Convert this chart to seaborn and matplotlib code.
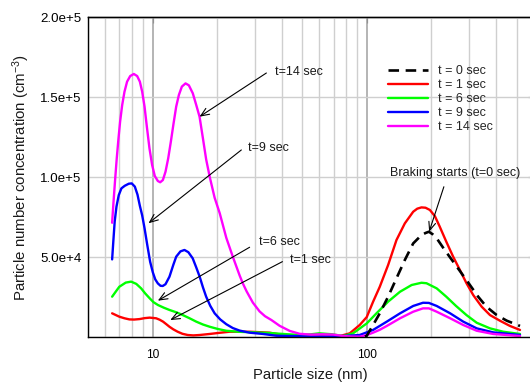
import numpy as np
import pandas as pd
import matplotlib
matplotlib.use("Agg")
import matplotlib.pyplot as plt
import seaborn as sns
from matplotlib.ticker import NullFormatter, NullLocator

# ---------------- data ----------------
size_t0 = [98, 100, 107, 115, 125.8, 137.6, 150.5, 164.7, 180, 188, 195, 203, 212, 231,
           253, 277, 303, 331, 362, 404, 450, 519]
conc_t0 = [300, 800, 7500, 14800, 25200, 36700, 48100, 58500, 63700, 65000, 65800, 64200,
           61700, 54400, 47100, 39800, 32500, 25200, 18900, 13700, 10200, 6900]

size_t1 = [6.48, 7.0, 7.4, 7.8, 8.2, 8.7, 9.2, 9.7, 10.4, 10.8, 11.2, 11.6, 12.0, 12.5,
           13.1, 13.8, 14.6, 15.5, 16.6, 18.5, 20.5, 22.9, 28.4, 35.2, 40.6, 48.6, 58, 68,
           75, 83.3, 92.7, 100, 107, 115, 125.8, 137.6, 150.5, 164.7, 172, 180, 188, 197,
           208, 219, 235, 253, 272, 292, 314, 344, 376, 418, 466, 519]
conc_t1 = [14800, 12700, 11700, 11000, 10900, 11200, 11800, 12100, 11700, 10800, 9600,
           8000, 6400, 4800, 3300, 2000, 1250, 1000, 1250, 1900, 2600, 3300, 3300, 2700,
           1250, 400, 300, 300, 600, 2300, 7500, 12500, 22000, 31400, 45000, 60600, 71000,
           78300, 80200, 81000, 80800, 79400, 75500, 69000, 59600, 50200, 41900, 33600,
           26200, 18900, 13700, 10200, 6900, 4400]

size_t6 = [6.48, 6.75, 7.0, 7.5, 7.95, 8.4, 8.85, 9.25, 9.7, 10.1, 10.6, 11.3, 12.0, 13.0,
           13.85, 14.9, 16.0, 17.2, 18.5, 20.2, 22.1, 25.0, 28.4, 35.2, 40.6, 48.6, 55, 60,
           69, 77.6, 86.3, 92, 100, 111, 125.8, 143, 162, 180, 190, 212, 235, 261, 292,
           326, 376, 433, 519]
conc_t6 = [25200, 28500, 31400, 34000, 34600, 33200, 30400, 27200, 24200, 21800, 20000,
           18300, 16900, 15300, 13700, 11700, 9600, 7800, 6400, 5000, 3900, 3300, 3000,
           2500, 1900, 1250, 1700, 2300, 1700, 600, 2300, 5000, 8500, 14800, 22100, 28300,
           32500, 33900, 33600, 30400, 25200, 19400, 13700, 8900, 5400, 3300, 1900]

size_t9 = [6.48, 6.57, 6.66, 6.79, 6.96, 7.16, 7.42, 7.75, 8.0, 8.27, 8.51, 8.73, 8.95,
           9.18, 9.44, 9.75, 10.03, 10.3, 10.59, 10.9, 11.17, 11.5, 12.0, 12.5, 12.9, 13.5,
           14.1, 14.7, 15.4, 16.0, 16.6, 17.2, 17.8, 18.6, 19.5, 20.7, 22.1, 23.7, 25.5,
           28.4, 32.8, 37.8, 45, 55, 65, 77.6, 92.7, 107, 124, 143, 164.7, 183, 195, 212,
           245, 282, 326, 389, 519]
conc_t9 = [48500, 60600, 72100, 81500, 88700, 92900, 94500, 95800, 96000, 94000, 89000,
           82000, 76000, 68000, 58000, 47000, 40500, 36000, 33500, 32000, 31900, 33000,
           37700, 45000, 50200, 53500, 54400, 53000, 49200, 43500, 37700, 31000, 25200,
           19500, 14800, 11000, 8000, 5600, 4000, 2700, 1900, 800, 600, 300, 300, 600,
           1250, 4400, 9600, 14800, 19400, 21400, 21300, 19400, 14800, 9600, 5400, 2900,
           1250]

size_t14 = [6.48, 6.57, 6.69, 6.81, 6.94, 7.06, 7.22, 7.40, 7.61, 7.87, 8.18, 8.48, 8.73,
            8.95, 9.18, 9.41, 9.68, 9.96, 10.25, 10.59, 10.86, 11.18, 11.50, 11.84, 12.18,
            12.54, 12.90, 13.28, 13.71, 14.26, 14.78, 15.42, 16.0, 16.58, 17.2, 17.8, 18.5,
            19.5, 20.6, 22.1, 23.7, 25.5, 26.4, 27.5, 29.4, 31.6, 33.5, 35.9, 39.2, 43.7,
            48.6, 55, 62, 70, 77.6, 85, 92.7, 100, 107, 115, 124, 143, 164.7, 183, 195, 212,
            245, 282, 326, 389, 519]
conc_t14 = [71400, 83500, 98100, 111700, 124200, 134600, 145000, 153300, 159600, 163100,
            164400, 163100, 159600, 153300, 144000, 131500, 117900, 107500, 100600, 97500,
            96700, 98100, 103300, 111700, 122100, 133500, 144000, 151300, 156500, 158500,
            157300, 152300, 145000, 137700, 124000, 111000, 100000, 87000, 77300, 62000,
            50200, 38500, 33500, 28500, 21500, 16000, 13000, 10600, 7000, 3800, 2000, 1500,
            1700, 1500, 600, 300, 200, 1200, 2700, 4500, 6900, 11700, 15800, 17900, 17900,
            15800, 11700, 7500, 3900, 1900, 600]

series_labels = ["t = 0 sec", "t = 1 sec", "t = 6 sec", "t = 9 sec", "t = 14 sec"]
series_colors = ["#000000", "#ff0000", "#00ff00", "#0000ff", "#ff00ff"]

x_major = [10, 100]
x_major_labels = ["10", "100"]
x_minor = [5, 6, 7, 8, 9, 20, 30, 40, 50, 60, 70, 80, 90, 200, 300, 400, 500]
y_major = [0, 50000, 100000, 150000, 200000]
y_major_labels = ["", "5.0e+4", "1.0e+5", "1.5e+5", "2.0e+5"]
y_minor = [v for v in range(0, 200001, 10000) if v % 50000 != 0]

# annotation texts: (label, text pos, arrow tail, arrow head) in data units
annotations = [
    ("t=14 sec", (37.2, 165600), (34.0, 165000), (16.58, 137700)),
    ("t=9 sec", (27.8, 118100), (25.98, 116900), (9.58, 71100)),
    ("t=6 sec", (31.4, 59200), (28.4, 56100), (10.59, 22700)),
    ("t=1 sec", (43.65, 48100), (40.4, 47100), (12.1, 10600)),
    ("Braking starts (t=0 sec)", (128, 102300), (229, 93900), (195.5, 65800)),
]

# ---------------- build long table ----------------
frames = []
for lab, xs, ys in zip(series_labels,
                       [size_t0, size_t1, size_t6, size_t9, size_t14],
                       [conc_t0, conc_t1, conc_t6, conc_t9, conc_t14]):
    frames.append(pd.DataFrame({"size": xs, "conc": ys, "series": lab}))
df = pd.concat(frames, ignore_index=True)

sns.set_style("white")
plt.rcParams["font.family"] = ["Liberation Sans", "DejaVu Sans"]
plt.rcParams["mathtext.fontset"] = "custom"
plt.rcParams["mathtext.rm"] = "Liberation Sans"
plt.rcParams["mathtext.it"] = "Liberation Sans:italic"

W, H = 530, 383
fig = plt.figure(figsize=(W / 100, H / 100), dpi=100)
ax = fig.add_axes([88 / W, 1 - 337 / H, 445.5 / W, 320 / H])

palette = dict(zip(series_labels, series_colors))

# draw colored series first, black dashed on top
order_draw = ["t = 1 sec", "t = 6 sec", "t = 9 sec", "t = 14 sec", "t = 0 sec"]
line_handles = {}
for lab in order_draw:
    sub = df[df["series"] == lab]
    sns.lineplot(data=sub, x="size", y="conc", color=palette[lab], sort=False,
                 estimator=None, lw=1.7 if lab != "t = 0 sec" else 1.9,
                 legend=False, ax=ax)
    line = ax.lines[-1]
    line.set_solid_joinstyle("round")
    if lab == "t = 0 sec":
        line.set_linestyle((0, (4, 2.5)))
    line_handles[lab] = line

ax.set_xscale("log")
ax.set_xlim(5, 600)
ax.set_ylim(0, 200000)

ax.set_xticks(x_major, labels=x_major_labels)
ax.set_xticks(x_minor, minor=True)
ax.xaxis.set_minor_formatter(NullFormatter())
ax.set_yticks(y_major, labels=y_major_labels)
ax.set_yticks(y_minor, minor=True)

ax.grid(which="minor", axis="x", color="#cfcfcf", lw=1.0)
ax.grid(which="major", axis="x", color="#a8a8a8", lw=1.2)
ax.grid(which="major", axis="y", color="#cfcfcf", lw=1.0)
ax.set_axisbelow(True)

ax.tick_params(axis="x", which="major", direction="out", length=4.5, width=0.8,
               labelsize=8.6, pad=4.5, colors="black")
ax.tick_params(axis="x", which="minor", direction="out", length=2.5, width=0.8)
ax.tick_params(axis="y", which="major", direction="out", length=3.8, width=0.8,
               labelsize=9.6, pad=1, colors="black")
ax.tick_params(axis="y", which="minor", direction="out", length=2.0, width=0.8)

for s in ax.spines.values():
    s.set_color("black")
    s.set_linewidth(1.0)

# inward ticks on top and right
top = ax.secondary_xaxis("top")
top.set_xticks(x_major)
top.xaxis.set_minor_locator(NullLocator())
top.tick_params(axis="x", direction="in", length=4.5, width=0.8, labeltop=False)
top.spines["top"].set_linewidth(1.0)
right = ax.secondary_yaxis("right")
right.set_yticks(y_major[1:-1])
right.yaxis.set_minor_locator(NullLocator())
right.tick_params(axis="y", direction="in", length=4.0, width=0.8, labelright=False)

ax.set_xlabel("Particle size (nm)", fontsize=10.6, color="#1a1a1a")
ax.set_ylabel(r"Particle number concentration (cm$^{\mathregular{-3}}$)", fontsize=10.8,
              color="#1a1a1a")
ax.xaxis.set_label_coords(0.5, -0.096)
ax.yaxis.set_label_coords(-0.125, 0.5)

for text, tpos, tail, head in annotations:
    ax.annotate("", xy=head, xytext=tail,
                arrowprops=dict(arrowstyle="->,head_length=0.6,head_width=0.25",
                                lw=0.8, color="black", shrinkA=0, shrinkB=0))
    ax.text(tpos[0], tpos[1], text, ha="left", va="center", fontsize=9, color="#1a1a1a")

handles = [line_handles[lab] for lab in series_labels]
leg = ax.legend(handles, series_labels, loc="upper left",
                bbox_to_anchor=(388 / W, 1 - 65.5 / H), bbox_transform=fig.transFigure,
                frameon=False, fontsize=9, handlelength=3.2, handletextpad=0.8,
                labelspacing=0.16, borderpad=0, borderaxespad=0)

fig.savefig("out.png", dpi=100)
